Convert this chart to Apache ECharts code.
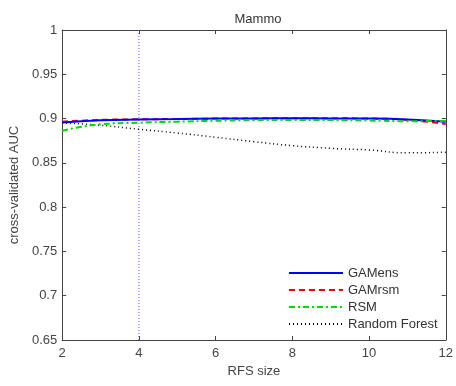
<!DOCTYPE html>
<html><head><meta charset="utf-8">
<script src="https://cdn.jsdelivr.net/npm/echarts@6/dist/echarts.min.js"></script>
<style>html,body{margin:0;padding:0;background:#fff}#c{width:456px;height:386px}</style>
</head><body><div id="c"></div>
<script>
const rfsSize = [2, 3, 4, 5, 6, 7, 8, 9, 10, 11, 12];
const gamens = [0.8955, 0.8980, 0.8990, 0.8995, 0.9000, 0.9002, 0.9003, 0.9002, 0.9000, 0.8990, 0.8965];
const gamrsm = [0.8965, 0.8985, 0.8992, 0.8995, 0.9000, 0.9002, 0.9003, 0.9003, 0.9000, 0.8985, 0.8940];
const rsm = [0.8863, 0.8935, 0.8953, 0.8965, 0.8975, 0.8982, 0.8985, 0.8983, 0.8978, 0.8970, 0.8975];
const randomForest = [0.8950, 0.8924, 0.8879, 0.8837, 0.8789, 0.8739, 0.8694, 0.8664, 0.8645, 0.8613, 0.8620];
const yRange = [0.65, 1];
const xRange = [2, 12];
const markX = 4;

const pair = a => rfsSize.map((x, i) => [x, a[i]]);
const font = 'Liberation Sans, Arial, sans-serif';
const txt = '#444';
const axisCommon = {
  axisLine: { show: true, lineStyle: { color: '#444', width: 1 } },
  axisTick: { show: true, inside: true, length: 4, lineStyle: { color: '#444' } },
  splitLine: { show: false }
};
const chart = echarts.init(document.getElementById('c'));
chart.setOption({
  backgroundColor: '#fff',
  animation: false,
  title: { text: 'Mammo', left: 253, top: 8, textAlign: 'center',
    textStyle: { fontSize: 13, fontWeight: 'normal', color: '#333', fontFamily: font } },
  grid: { left: 61, right: 10, top: 30, bottom: 46 },
  xAxis: [
    Object.assign({ type: 'value', min: xRange[0], max: xRange[1], interval: 2, position: 'bottom',
      name: 'RFS size', nameLocation: 'middle', nameGap: 25,
      nameTextStyle: { fontSize: 13, color: txt, fontFamily: font },
      axisLabel: { fontSize: 13, color: txt, fontFamily: font, margin: 7 } }, axisCommon),
    Object.assign({ type: 'value', min: xRange[0], max: xRange[1], interval: 2, position: 'top',
      axisLabel: { show: false } }, axisCommon)
  ],
  yAxis: [
    Object.assign({ type: 'value', min: yRange[0], max: yRange[1], interval: 0.05, position: 'left',
      name: 'cross-validated AUC', nameLocation: 'middle', nameGap: 40,
      nameTextStyle: { fontSize: 13, color: txt, fontFamily: font },
      axisLabel: { fontSize: 13, color: txt, fontFamily: font, margin: 5,
        formatter: v => String(+v.toFixed(2)) } }, axisCommon),
    Object.assign({ type: 'value', min: yRange[0], max: yRange[1], interval: 0.05, position: 'right',
      axisLabel: { show: false } }, axisCommon)
  ],
  legend: {
    orient: 'vertical', left: 283, top: 261, itemWidth: 54, itemHeight: 14, itemGap: 3,
    itemStyle: { opacity: 0, borderWidth: 0 },
    textStyle: { fontSize: 13, lineHeight: 14, color: '#333', fontFamily: font },
    data: ['GAMens', 'GAMrsm', 'RSM', 'Random Forest']
  },
  series: [
    { name: 'chosen', type: 'line', data: [[markX, yRange[0]], [markX, yRange[1]]], symbol: 'none',
      silent: true, z: 1,
      lineStyle: { color: '#5050ff', width: 1, type: [1, 2] }, itemStyle: { color: '#5050ff' } },
    { name: 'GAMens', type: 'line', data: pair(gamens), smooth: true, symbol: 'none',
      lineStyle: { color: '#0000ff', width: 2, type: 'solid' }, itemStyle: { color: '#0000ff' }, z: 4 },
    { name: 'GAMrsm', type: 'line', data: pair(gamrsm), smooth: true, symbol: 'none',
      lineStyle: { color: '#ff0000', width: 2, type: [6, 4] }, itemStyle: { color: '#ff0000' }, z: 3 },
    { name: 'RSM', type: 'line', data: pair(rsm), smooth: true, symbol: 'none',
      lineStyle: { color: '#00dd00', width: 2, type: [6, 3, 2, 3] }, itemStyle: { color: '#00dd00' }, z: 5 },
    { name: 'Random Forest', type: 'line', data: pair(randomForest), smooth: true, symbol: 'none',
      lineStyle: { color: '#000000', width: 1.5, type: [1, 3] }, itemStyle: { color: '#000000' }, z: 2 }
  ]
});
</script></body></html>
